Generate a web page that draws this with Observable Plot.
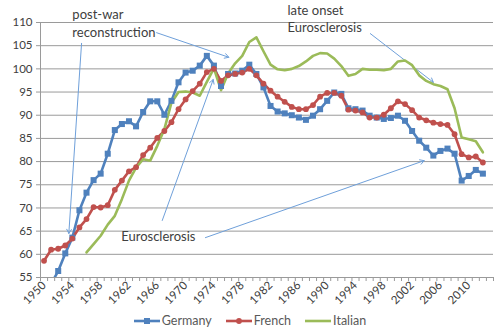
<!DOCTYPE html>
<html>
<head>
<meta charset="utf-8">
<script src="https://cdn.jsdelivr.net/npm/d3@7"></script>
<script src="https://cdn.jsdelivr.net/npm/@observablehq/plot@0.6"></script>
<style>
  html, body { margin: 0; padding: 0; background: #fff; }
  #wrap { width: 500px; height: 333px; overflow: hidden; font-family: Lato, "Open Sans", sans-serif; }
  #legend { display: flex; justify-content: center; align-items: center; height: 25px; font-size: 12.5px; color: #595959; gap: 14px; }
  #legend .item { display: flex; align-items: center; gap: 2px; }
</style>
</head>
<body>
<div id="wrap">
  <div id="chart"></div>
  <div id="legend"></div>
</div>
<script>
// ---- data ----
const seriesNames = ["Germany", "French", "Italian"];
const seriesColors = ["#4F81BD", "#C0504D", "#9BBB59"];

const germanyYears = d3.range(1951, 2013);
const germanyValues = [
  53.6, 56.4, 60.2, 63.6, 69.5, 73.3, 76.0, 77.4, 81.7, 86.8,
  88.1, 88.7, 87.6, 90.7, 93.0, 93.0, 90.1, 93.1, 97.1, 99.2,
  99.6, 100.7, 102.8, 100.7, 96.3, 98.9, 99.0, 99.6, 100.9, 98.9,
  96.0, 92.0, 90.8, 90.4, 90.0, 89.5, 89.0, 89.9, 91.3, 93.1,
  94.9, 94.6, 91.5, 91.3, 91.0, 89.9, 89.5, 89.2, 89.4, 89.9,
  88.8, 86.6, 84.5, 83.0, 81.3, 82.3, 82.8, 81.7, 75.9, 76.9,
  78.2, 77.4
];

const frenchYears = d3.range(1950, 2013);
const frenchValues = [
  58.6, 61.0, 61.2, 61.9, 63.4, 65.8, 67.6, 70.2, 70.1, 70.6,
  73.9, 75.9, 77.9, 78.8, 81.4, 83.0, 85.1, 86.6, 88.5, 91.3,
  93.4, 95.2, 96.8, 99.3, 100.0, 97.4, 98.6, 98.9, 99.2, 100.0,
  98.6, 96.8, 95.3, 94.0, 92.9, 91.8, 91.3, 91.3, 92.2, 94.0,
  94.8, 94.8, 94.2, 91.2, 91.0, 90.6, 89.5, 89.5, 90.1, 91.5,
  93.0, 92.4, 91.1, 89.5, 88.9, 88.4, 88.1, 87.9, 85.9, 81.6,
  80.9, 81.1, 79.8
];

const italianYears = d3.range(1956, 2013);
const italianValues = [
  60.4, 62.2, 64.0, 66.4, 68.3, 71.9, 75.9, 78.7, 80.5, 80.2,
  83.4, 87.0, 92.7, 95.0, 95.1, 94.9, 94.2, 97.2, 100.1, 95.4,
  99.0, 101.2, 102.8, 105.8, 106.8, 103.8, 100.9, 99.9, 99.7, 100.0,
  100.6, 101.6, 102.8, 103.4, 103.3, 102.2, 100.6, 98.5, 98.9, 100.0,
  99.8, 99.8, 99.7, 100.0, 101.6, 101.8, 100.8, 98.6, 97.4, 96.7,
  96.3, 95.6, 91.5, 85.2, 84.8, 84.4, 82.0
];

const yTicks = d3.range(55, 111, 5);
const xLabelYears = d3.range(1950, 2011, 4);
const categoryEdges = d3.range(1949.5, 2014, 1);

// annotation texts (data coordinates: year, index value)
const annotationTexts = [
  {label: "post-war", year: 1954.0, value: 111.6},
  {label: "reconstruction", year: 1954.0, value: 107.8},
  {label: "late onset", year: 1984.4, value: 112.6},
  {label: "Eurosclerosis", year: 1984.4, value: 108.9},
  {label: "Eurosclerosis", year: 1960.9, value: 63.8}
];
const annotationArrows = [
  {x1: 1955.3, y1: 105.5, x2: 1953.5, y2: 64.5},
  {x1: 1965.9, y1: 107.8, x2: 1976.1, y2: 102.5},
  {x1: 1996.1, y1: 107.6, x2: 2005.0, y2: 97.1},
  {x1: 1966.7, y1: 67.3, x2: 1973.9, y2: 97.7},
  {x1: 1972.8, y1: 63.6, x2: 2003.7, y2: 80.2}
];

// ---- table ----
const rows = [];
germanyYears.forEach((y, i) => rows.push({series: "Germany", year: y, value: germanyValues[i]}));
frenchYears.forEach((y, i) => rows.push({series: "French", year: y, value: frenchValues[i]}));
italianYears.forEach((y, i) => rows.push({series: "Italian", year: y, value: italianValues[i]}));

const gridColor = "#9a9a9a";
const textColor = "#404040";
const arrowColor = "#6FA0DA";

const chart = Plot.plot({
  width: 500,
  height: 308,
  marginLeft: 40,
  marginRight: 7,
  marginTop: 22,
  marginBottom: 31,
  style: {fontFamily: "Lato, 'Open Sans', sans-serif", fontSize: "11px", background: "#fff", overflow: "visible"},
  x: {domain: [1949.5, 2013.5], label: null},
  y: {domain: [55, 110], label: null},
  color: {domain: seriesNames, range: seriesColors},
  marks: [
    Plot.gridY(yTicks, {stroke: gridColor, strokeOpacity: 1, strokeWidth: 1}),
    Plot.axisY({ticks: yTicks, tickSize: 4, tickPadding: 4, stroke: gridColor, fill: textColor, fontSize: 11.5, label: null}),
    Plot.ruleX([1949.5], {stroke: gridColor}),
    Plot.ruleY([55], {stroke: gridColor}),
    Plot.axisX({ticks: categoryEdges, tickSize: 4, tickFormat: () => "", stroke: gridColor, label: null}),
    Plot.axisX({ticks: xLabelYears, tickSize: 0, tickPadding: 6, tickRotate: -45, tickFormat: d => String(d), fill: textColor, fontSize: 11.5, label: null}),
    Plot.arrow(annotationArrows, {x1: "x1", y1: "y1", x2: "x2", y2: "y2", stroke: arrowColor, strokeWidth: 1, headLength: 7}),
    Plot.line(rows, {x: "year", y: "value", z: "series", stroke: "series", strokeWidth: 2.6, clip: true}),
    Plot.dot(rows.filter(d => d.series === "Germany"), {x: "year", y: "value", fill: "series", symbol: "square", r: 3.4, clip: true}),
    Plot.dot(rows.filter(d => d.series === "French"), {x: "year", y: "value", fill: "series", symbol: "circle", r: 2.9, clip: true}),
    Plot.text(annotationTexts, {x: "year", y: "value", text: "label", textAnchor: "start", fill: textColor, fontSize: 13})
  ]
});
document.getElementById("chart").appendChild(chart);

// ---- legend ----
const legend = d3.select("#legend");
seriesNames.forEach((name, i) => {
  const item = legend.append("div").attr("class", "item");
  const sw = item.append("svg").attr("width", 26).attr("height", 10);
  sw.append("line").attr("x1", 0).attr("x2", 26).attr("y1", 5).attr("y2", 5)
    .attr("stroke", seriesColors[i]).attr("stroke-width", 2.6);
  if (name === "Germany") {
    sw.append("rect").attr("x", 10).attr("y", 2).attr("width", 6).attr("height", 6).attr("fill", seriesColors[i]);
  } else if (name === "French") {
    sw.append("circle").attr("cx", 13).attr("cy", 5).attr("r", 2.9).attr("fill", seriesColors[i]);
  }
  item.append("span").text(name);
});
</script>
</body>
</html>
